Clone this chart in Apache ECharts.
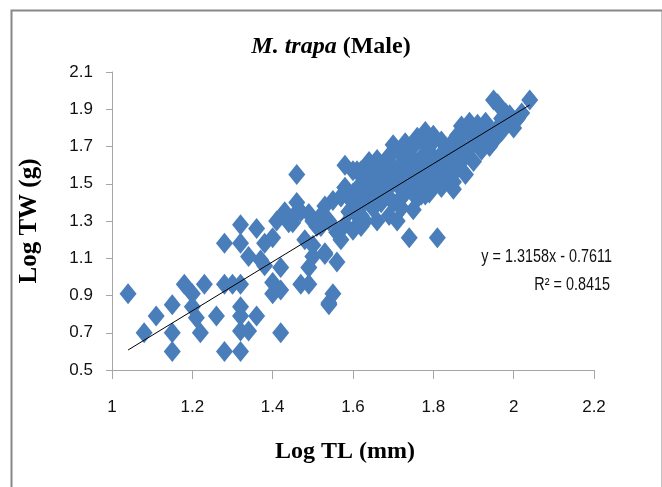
<!DOCTYPE html>
<html>
<head>
<meta charset="utf-8">
<script src="https://cdn.jsdelivr.net/npm/echarts@6/dist/echarts.min.js"></script>
<style>
html,body{margin:0;padding:0;background:#fff;}
#chart{width:662px;height:487px;}
</style>
</head>
<body>
<div id="chart"></div>
<script>
// ---- data ----
var logTL = [
  1.04,1.08,1.11,1.15,1.15,1.15,1.18,1.20,1.23,1.20,1.21,1.22,1.26,1.28,1.28,1.28,1.30,1.32,1.32,1.32,
  1.32,1.32,1.34,1.36,1.32,1.32,1.34,1.36,1.38,1.40,1.37,1.38,1.42,1.40,1.40,1.42,1.42,1.47,1.49,1.49,
  1.50,1.50,1.53,1.54,1.43,1.46,1.49,1.45,1.53,1.46,1.52,
  1.55,1.54,1.56,1.53,1.56,1.60,1.54,1.59,1.60,1.55,1.57,1.58,1.62,1.60,1.62,1.64,1.66,1.63,1.65,1.61,
  1.74,1.81,1.71,1.77,1.68,1.69,1.71,1.73,1.75,1.70,1.72,1.67,1.65,1.63,1.61,1.59,1.58,1.57,1.56,1.51,
  1.52,1.50,1.48,1.44,1.47,1.45,1.43,1.41,
  1.95,1.96,2.04,2.02,2.01,1.99,1.93,1.91,1.89,1.87,1.88,1.86,1.85,1.84,1.82,1.80,1.78,1.76,1.79,1.77,
  1.75,1.73,1.71,1.70,1.69,1.72,1.74,1.76,1.78,1.80,1.82,1.84,1.85,1.81,1.83,1.86,1.88,1.90,1.92,1.94,
  1.96,1.97,1.93,1.95,1.89,1.87,1.80,1.78,1.74,1.72,1.70,1.68,1.66,1.65,1.63,1.62,1.64,1.66,1.68,1.70,
  1.72,1.76,1.78,1.75,1.73,1.67,1.65,1.63,1.61,1.60,1.58,1.57,1.58,1.60,1.62,1.64,1.66,1.68,1.70,1.73,
  1.75,1.77,1.79,1.82,1.84,1.86,1.88,1.90,1.92,1.94,1.97,1.98,1.89,1.91,1.93,1.83,1.85,1.79,1.75,1.77,
  1.71,1.69,1.67,1.75,1.98,2.00,1.90,1.87,1.83,1.81,1.79,1.74,1.69,1.66,1.64,1.62,1.68,1.72
];
var logTW = [
  0.91,0.70,0.79,0.85,0.70,0.60,0.96,0.91,0.96,0.84,0.78,0.70,0.79,1.18,0.96,0.60,0.96,0.96,0.84,0.79,
  0.71,0.60,0.71,0.79,1.28,1.18,1.11,1.26,1.18,1.21,1.09,1.06,1.05,0.97,0.91,0.93,0.70,0.96,0.96,1.05,
  1.11,1.17,1.13,0.86,1.34,1.40,1.34,1.29,1.38,1.55,1.27,
  0.91,0.85,1.08,1.12,1.24,1.40,1.30,1.35,1.25,1.41,1.43,1.48,1.27,1.45,1.33,1.47,1.30,1.42,1.37,1.33,
  1.21,1.21,1.30,1.44,1.43,1.33,1.40,1.45,1.36,1.52,1.37,1.40,1.53,1.55,1.57,1.35,1.28,1.20,1.24,1.27,
  1.33,1.30,1.20,1.29,1.35,1.32,1.35,1.30,
  1.95,1.93,1.95,1.88,1.85,1.87,1.83,1.82,1.83,1.81,1.78,1.76,1.73,1.70,1.73,1.76,1.78,1.75,1.67,1.64,
  1.63,1.66,1.68,1.71,1.65,1.60,1.58,1.55,1.52,1.50,1.48,1.50,1.47,1.57,1.60,1.65,1.67,1.72,1.75,1.77,
  1.80,1.85,1.72,1.73,1.69,1.62,1.62,1.60,1.50,1.47,1.52,1.55,1.58,1.53,1.55,1.50,1.47,1.45,1.43,1.40,
  1.37,1.42,1.44,1.47,1.45,1.40,1.37,1.30,1.45,1.40,1.48,1.43,1.60,1.57,1.57,1.62,1.63,1.60,1.57,1.72,
  1.70,1.73,1.70,1.66,1.63,1.58,1.55,1.62,1.68,1.70,1.78,1.82,1.77,1.79,1.80,1.52,1.51,1.45,1.57,1.50,
  1.50,1.48,1.50,1.57,1.88,1.80,1.78,1.70,1.56,1.53,1.58,1.65,1.62,1.47,1.52,1.38,1.59,1.55
];
var slope = 1.3158, intercept = -0.7611;
var trendRange = [1.04, 2.04];
var xTicks = [1, 1.2, 1.4, 1.6, 1.8, 2, 2.2];
var yTicks = [0.5, 0.7, 0.9, 1.1, 1.3, 1.5, 1.7, 1.9, 2.1];
var eqText = 'y = 1.3158x - 0.7611';
var r2Text = 'R\u00B2 = 0.8415';

// ---- build ----
var pts = logTL.map(function(x, i){ return [x, logTW[i]]; });
var trend = trendRange.map(function(x){ return [x, slope * x + intercept]; });
var labelFont = '"Liberation Sans Narrow", "Liberation Sans", "Open Sans", sans-serif';
var serif = '"Liberation Serif", "DejaVu Serif", serif';

var chart = echarts.init(document.getElementById('chart'), null, {renderer: 'canvas'});
chart.setOption({
  animation: false,
  backgroundColor: '#ffffff',
  title: {
    text: '{i|M. trapa }{b|(Male)}',
    left: 'center',
    top: 30,
    textStyle: {
      rich: {
        i: {fontFamily: serif, fontStyle: 'italic', fontWeight: 'bold', fontSize: 24, color: '#000'},
        b: {fontFamily: serif, fontWeight: 'bold', fontSize: 24, color: '#000'}
      }
    }
  },
  grid: {left: 112, right: 68, top: 72, bottom: 117, containLabel: false},
  xAxis: {
    type: 'value', min: 1, max: 2.2,
    name: 'Log TL (mm)', nameLocation: 'middle', nameGap: 70,
    nameTextStyle: {fontFamily: serif, fontWeight: 'bold', fontSize: 24, color: '#000', padding: [0, 16, 0, 0]},
    splitLine: {show: false},
    axisLine: {show: true, lineStyle: {color: '#a6a6a6', width: 1}},
    axisTick: {show: true, inside: false, length: 9, lineStyle: {color: '#a6a6a6'}, customValues: xTicks},
    axisLabel: {customValues: xTicks, margin: 29, fontFamily: labelFont, fontSize: 17, color: '#111'}
  },
  yAxis: {
    type: 'value', min: 0.5, max: 2.1,
    name: 'Log TW (g)', nameLocation: 'middle', nameGap: 70,
    nameTextStyle: {fontFamily: serif, fontWeight: 'bold', fontSize: 25, color: '#000'},
    splitLine: {show: false},
    axisLine: {show: true, lineStyle: {color: '#a6a6a6', width: 1}},
    axisTick: {show: true, inside: false, length: 6, lineStyle: {color: '#a6a6a6'}, customValues: yTicks},
    axisLabel: {customValues: yTicks, margin: 19, fontFamily: labelFont, fontSize: 17, color: '#111',
      formatter: function(v){ return v.toFixed(1); }}
  },
  series: [
    {
      type: 'scatter', data: pts, symbol: 'diamond', symbolSize: [17, 21],
      itemStyle: {color: '#4a7ebb', opacity: 1}, z: 2
    },
    {
      type: 'line', data: trend, showSymbol: false, symbol: 'none',
      lineStyle: {color: '#000', width: 1}, z: 3
    }
  ],
  graphic: [
    {type: 'rect', left: 9, top: 8, shape: {width: 651, height: 500},
     style: {fill: 'none', stroke: '#888', lineWidth: 2}, silent: true},
    {type: 'text', x: 612, y: 257, scaleX: 0.8,
     style: {text: eqText, font: '18px ' + labelFont, fill: '#111', align: 'right', verticalAlign: 'middle'}},
    {type: 'text', x: 610, y: 285, scaleX: 0.8,
     style: {text: r2Text, font: '18px ' + labelFont, fill: '#111', align: 'right', verticalAlign: 'middle'}}
  ]
});
</script>
</body>
</html>
